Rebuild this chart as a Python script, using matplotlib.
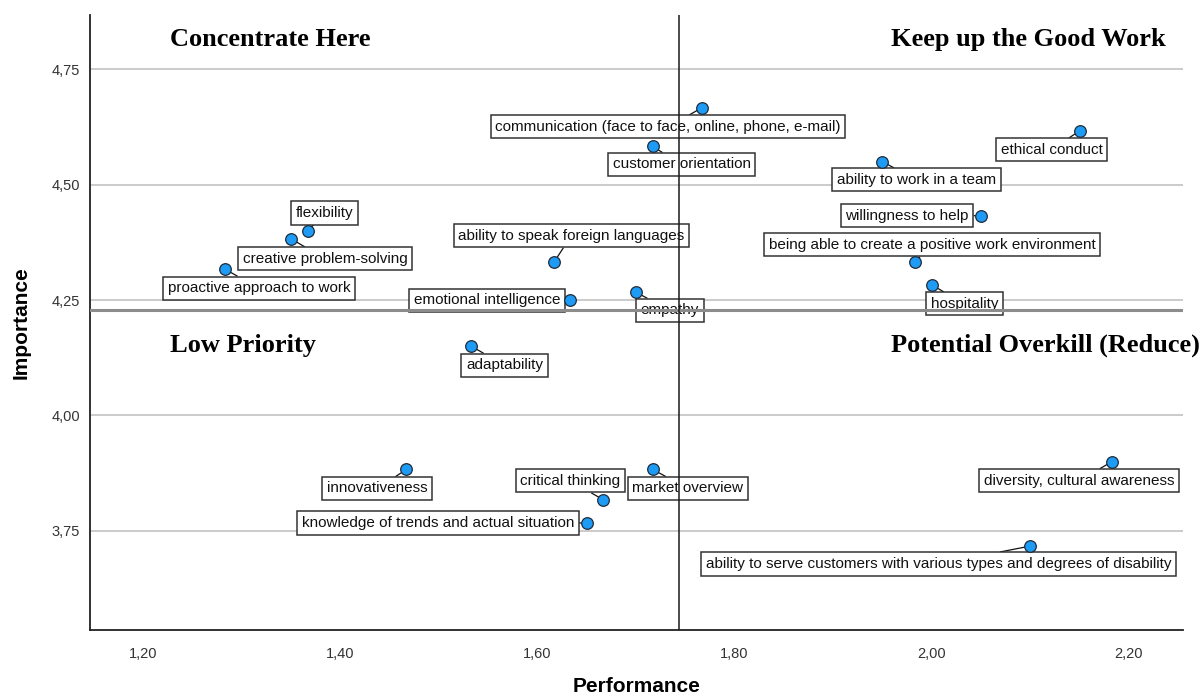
import numpy as np
import matplotlib.pyplot as plt
from matplotlib.ticker import FixedLocator, FuncFormatter

# data (performance, importance) per item
items = [
    "flexibility", "creative problem-solving", "proactive approach to work",
    "communication (face to face, online, phone, e-mail)", "customer orientation",
    "ability to speak foreign languages", "emotional intelligence", "empathy",
    "ethical conduct", "ability to work in a team", "willingness to help",
    "being able to create a positive work environment", "hospitality",
    "adaptability", "innovativeness", "critical thinking", "market overview",
    "knowledge of trends and actual situation", "diversity, cultural awareness",
    "ability to serve customers with various types and degrees of disability",
]
performance = [1.367, 1.350, 1.283, 1.767, 1.717, 1.617, 1.633, 1.700,
               2.150, 1.950, 2.050, 1.983, 2.000, 1.533, 1.467, 1.667,
               1.717, 1.650, 2.183, 2.100]
importance = [4.400, 4.383, 4.317, 4.667, 4.583, 4.333, 4.250, 4.267,
              4.617, 4.550, 4.433, 4.333, 4.283, 4.150, 3.883, 3.817,
              3.883, 3.767, 3.900, 3.717]
perf_mean = 1.744
imp_mean = 4.228

x_ticks = [1.20, 1.40, 1.60, 1.80, 2.00, 2.20]
y_ticks = [3.75, 4.00, 4.25, 4.50, 4.75]

# label offsets (pixels, from point to label centre)
label_offsets = [(17, 18), (34, -20), (34, -19), (-34, -19), (29, -18),
                 (17, 26), (-83, 0), (34, -18), (-28, -19), (34, -18),
                 (-74, 0), (17, 17), (33, -19), (33, -19), (-29, -19),
                 (-33, 19), (35, -19), (-149, 0), (-33, -19), (-92, -18)]

quadrants = [("Concentrate Here", 0.073, 0.950),
             ("Keep up the Good Work", 0.733, 0.950),
             ("Low Priority", 0.073, 0.4525),
             ("Potential Overkill (Reduce)", 0.733, 0.4525)]

plt.rcParams['font.family'] = ['Liberation Sans', 'DejaVu Sans']

fig = plt.figure(figsize=(12.03, 6.98), dpi=100)
ax = fig.add_axes([0.0748, 0.0974, 0.9086, 0.8811])

ax.set_xlim(1.146, 2.255)
ax.set_ylim(3.535, 4.868)

ax.yaxis.set_major_locator(FixedLocator(y_ticks))
ax.xaxis.set_major_locator(FixedLocator(x_ticks))
comma = FuncFormatter(lambda v, p: f"{v:.2f}".replace('.', ','))
ax.xaxis.set_major_formatter(comma)
ax.yaxis.set_major_formatter(comma)
ax.tick_params(length=0, labelsize=10.5, labelcolor='#333333')
ax.tick_params(axis='x', pad=12)
ax.tick_params(axis='y', pad=7)

ax.grid(axis='y', color='#bdbdbd', linewidth=1.1, zorder=0)
ax.set_axisbelow(True)
for s in ['top', 'right']:
    ax.spines[s].set_visible(False)
for s in ['left', 'bottom']:
    ax.spines[s].set_linewidth(1.3)
    ax.spines[s].set_color('#222222')

ax.set_xlabel("Performance", fontsize=15, fontweight='bold', labelpad=12)
ax.set_ylabel("Importance", fontsize=15, fontweight='bold', labelpad=15)

# reference lines
ax.axhline(imp_mean, color='#8c8c8c', linewidth=2.2, zorder=6)
ax.axvline(perf_mean, color='#1a1a1a', linewidth=1.1, zorder=6)

ax.scatter(performance, importance, s=70, color='#1e9bf5',
           edgecolors='#1f2b3a', linewidths=0.9, zorder=5)

for name, x, y, off in zip(items, performance, importance, label_offsets):
    ax.annotate(name, (x, y), xytext=off, textcoords='offset pixels',
                ha='center', va='center', fontsize=11, color='#111111',
                bbox=dict(boxstyle='square,pad=0.3', fc='white',
                          ec='#333333', lw=1.1),
                arrowprops=dict(arrowstyle='-', color='#111111', lw=0.9,
                                shrinkA=0, shrinkB=4),
                zorder=4)

for txt, qx, qy in quadrants:
    ax.text(qx, qy, txt, transform=ax.transAxes, ha='left', va='baseline',
            fontsize=19, fontweight='bold', family='Liberation Serif',
            clip_on=False)

fig.savefig('out.png', dpi=100)
